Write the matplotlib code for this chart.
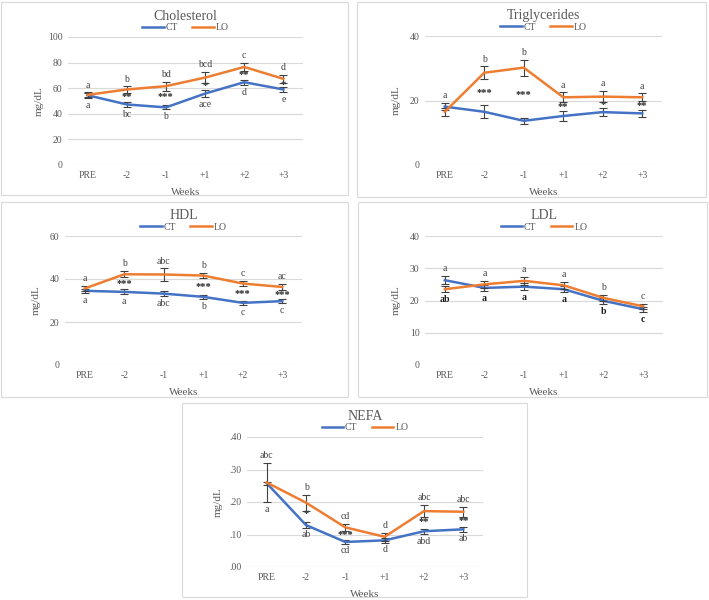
import matplotlib.pyplot as plt
from matplotlib.lines import Line2D
from matplotlib.patches import Rectangle
from matplotlib.ticker import FuncFormatter, MultipleLocator

plt.rcParams["font.family"] = ["Liberation Serif", "DejaVu Serif"]

CT_COLOR = "#4472C4"
LO_COLOR = "#ED7D31"
GRID = "#D9D9D9"
TXT = "#595959"

weeks = ["PRE", "-2", "-1", "+1", "+2", "+3"]

# Cholesterol
chol_ct = [54.5, 47.3, 45.0, 55.8, 64.7, 59.0]
chol_lo = [54.8, 59.0, 61.6, 68.3, 76.6, 67.3]
chol_ct_err = [2.0, 2.0, 1.5, 3.0, 2.0, 2.0]
chol_lo_err = [2.0, 2.5, 3.5, 4.5, 3.0, 3.0]
chol_top = ["a", "b", "bd", "bcd", "c", "d"]
chol_bottom = ["a", "bc", "b", "ace", "d", "e"]
chol_stars = ["", "**", "***", "*", "**", "*"]

# Triglycerides
tg_ct = [18.1, 16.5, 13.7, 15.2, 16.4, 16.0]
tg_lo = [16.5, 28.6, 30.2, 21.0, 21.2, 21.0]
tg_ct_err = [1.2, 2.0, 1.0, 1.5, 1.2, 1.0]
tg_lo_err = [1.2, 2.0, 2.5, 1.5, 1.7, 1.2]
tg_top = ["a", "b", "b", "a", "a", "a"]
tg_bottom = ["", "", "", "", "", ""]
tg_stars = ["", "***", "***", "**", "*", "**"]

# HDL
hdl_ct = [34.5, 34.0, 33.2, 31.7, 28.9, 29.7]
hdl_lo = [35.6, 42.2, 42.1, 41.6, 37.9, 36.3]
hdl_ct_err = [1.0, 1.2, 1.2, 1.0, 1.0, 1.0]
hdl_lo_err = [1.2, 1.5, 2.8, 1.3, 1.2, 1.3]
hdl_top = ["a", "b", "abc", "b", "c", "ac"]
hdl_bottom = ["a", "a", "abc", "b", "c", "c"]
hdl_stars = ["", "***", "", "***", "***", "***"]

# LDL
ldl_ct = [26.3, 23.9, 24.3, 23.5, 19.9, 17.3]
ldl_lo = [23.5, 25.0, 26.1, 24.7, 20.8, 18.2]
ldl_ct_err = [1.3, 1.0, 1.0, 1.0, 1.0, 0.8]
ldl_lo_err = [1.0, 1.0, 1.2, 1.0, 1.0, 0.8]
ldl_top = ["a", "a", "a", "a", "b", "c"]
ldl_bottom = ["ab", "a", "a", "a", "b", "c"]
ldl_stars = ["", "", "", "", "", ""]

# NEFA
nefa_ct = [0.258, 0.129, 0.077, 0.082, 0.110, 0.116]
nefa_lo = [0.260, 0.198, 0.122, 0.093, 0.172, 0.170]
nefa_ct_err = [0.005, 0.008, 0.005, 0.007, 0.008, 0.007]
nefa_lo_err = [0.060, 0.025, 0.010, 0.012, 0.018, 0.016]
nefa_top = ["abc", "b", "cd", "d", "abc", "abc"]
nefa_bottom = ["a", "ab", "cd", "d", "abd", "ab"]
nefa_stars = ["", "*", "***", "", "**", "**"]

W, H = 709, 600
fig = plt.figure(figsize=(7.09, 6), dpi=100)


def box(x0, y0, x1, y1):
    return [x0 / W, 1 - y1 / H, (x1 - x0) / W, (y1 - y0) / H]


def panel(frame, plot, title, ct, lo, ct_err, lo_err, ymax, step,
          top, bottom, stars, fmt=None, bottom_dark=False):
    fig.patches.append(Rectangle((frame[0] / W, 1 - frame[3] / H),
                                 (frame[2] - frame[0]) / W,
                                 (frame[3] - frame[1]) / H,
                                 transform=fig.transFigure, fill=False,
                                 edgecolor=GRID, lw=0.8))
    ax = fig.add_axes(box(*plot))
    pw, ph = plot[2] - plot[0], plot[3] - plot[1]
    x = list(range(len(weeks)))
    ax.errorbar(x, ct, yerr=ct_err, color=CT_COLOR, lw=1.8, ecolor="#404040",
                elinewidth=0.8, capsize=2.6, capthick=0.8, zorder=3)
    ax.errorbar(x, lo, yerr=lo_err, color=LO_COLOR, lw=1.8, ecolor="#404040",
                elinewidth=0.8, capsize=2.6, capthick=0.8, zorder=4)
    ax.set_xlim(-0.5, len(weeks) - 0.5)
    ax.set_ylim(0, ymax)
    ax.yaxis.set_major_locator(MultipleLocator(step))
    if fmt:
        ax.yaxis.set_major_formatter(FuncFormatter(fmt))
    ax.set_xticks(x)
    ax.set_xticklabels(weeks)
    ax.grid(axis="y", color=GRID, lw=0.8)
    ax.set_axisbelow(True)
    for s in ax.spines.values():
        s.set_visible(False)
    ax.tick_params(axis="x", length=0, labelsize=7, labelcolor=TXT, pad=4)
    ax.tick_params(axis="y", length=0, labelsize=7, labelcolor=TXT, pad=4)
    ax.set_xlabel("Weeks", fontsize=8, color=TXT)
    ax.set_ylabel("mg/dL", fontsize=8, color=TXT)
    ax.xaxis.set_label_coords(0.5, -23 / ph)
    ax.yaxis.set_label_coords(-24 / pw, 0.5)
    for i in x:
        hi = max(ct[i] + ct_err[i], lo[i] + lo_err[i])
        low = min(ct[i] - ct_err[i], lo[i] - lo_err[i])
        if top[i]:
            ax.annotate(top[i], (i, hi), xytext=(0, 2), textcoords="offset points",
                        ha="center", va="bottom", fontsize=7, color="#404040")
        if bottom[i]:
            ax.annotate(bottom[i], (i, low), xytext=(0, -2), textcoords="offset points",
                        ha="center", va="top", fontsize=7,
                        color="#1a1a1a" if bottom_dark else "#404040",
                        fontweight="bold" if bottom_dark else "normal")
        if stars[i]:
            ax.text(i, (ct[i] + lo[i]) / 2, stars[i], ha="center", va="center",
                    fontsize=7.5, fontweight="bold", color="#262626")
    cx = (plot[0] + plot[2]) / 2 / W
    fig.text(cx, 1 - (plot[1] - 21) / H, title, ha="center", va="center",
             fontsize=10, color=TXT)
    handles = [Line2D([], [], color=CT_COLOR, lw=1.8),
               Line2D([], [], color=LO_COLOR, lw=1.8)]
    fig.legend(handles, ["CT", "LO"], loc="center", ncol=2, frameon=False,
               bbox_to_anchor=(cx, 1 - (plot[1] - 9) / H), fontsize=7,
               handlelength=2.2, columnspacing=1.5, handletextpad=0.2,
               labelcolor=TXT, borderpad=0)
    return ax


panel((1, 2, 348, 195), (68, 37, 303, 165), "Cholesterol",
      chol_ct, chol_lo, chol_ct_err, chol_lo_err, 100, 20,
      chol_top, chol_bottom, chol_stars)
panel((357, 2, 706, 197), (425, 36, 662, 165), "Triglycerides",
      tg_ct, tg_lo, tg_ct_err, tg_lo_err, 40, 20,
      tg_top, tg_bottom, tg_stars)
panel((1, 202, 348, 397), (65, 236, 302, 365), "HDL",
      hdl_ct, hdl_lo, hdl_ct_err, hdl_lo_err, 60, 20,
      hdl_top, hdl_bottom, hdl_stars)
panel((358, 202, 707, 397), (425, 236, 663, 365), "LDL",
      ldl_ct, ldl_lo, ldl_ct_err, ldl_lo_err, 40, 10,
      ldl_top, ldl_bottom, ldl_stars, bottom_dark=True)
panel((182, 403, 527, 597), (247, 437, 483, 567), "NEFA",
      nefa_ct, nefa_lo, nefa_ct_err, nefa_lo_err, 0.40, 0.10,
      nefa_top, nefa_bottom, nefa_stars,
      fmt=lambda v, p: f"{v:.2f}".lstrip("0"))

fig.savefig("out.png", dpi=100, facecolor="white")
